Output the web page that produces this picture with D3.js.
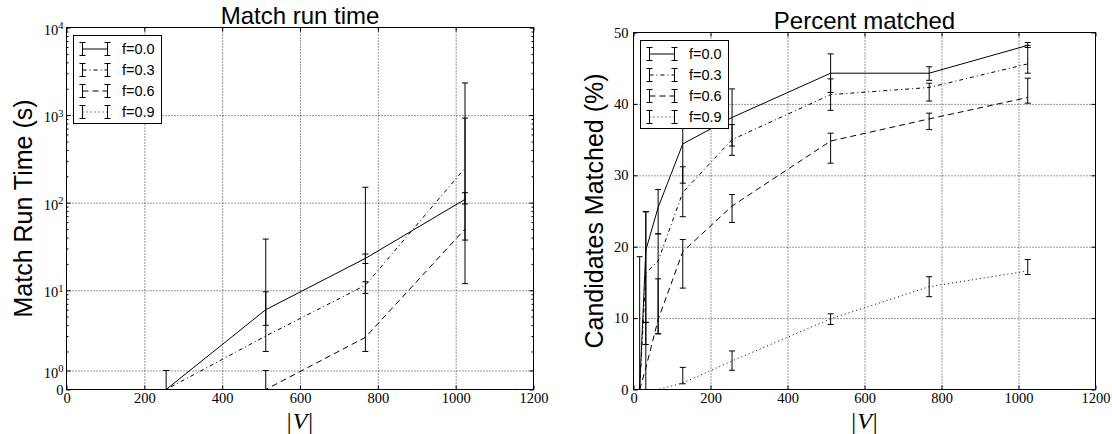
<!DOCTYPE html>
<html>
<head>
<meta charset="utf-8">
<script src="https://cdn.jsdelivr.net/npm/d3@7"></script>
<style>
  body { margin: 0; background: #fff; }
  svg { display: block; }
</style>
</head>
<body>
<div id="chart"></div>
<script>
// |V| sizes shared by both panels
const sizes = [16, 32, 64, 128, 256, 512, 768, 1024];
const seriesNames = ["f=0.0", "f=0.3", "f=0.6", "f=0.9"];
const xTicks = [0, 200, 400, 600, 800, 1000, 1200];

// Match run time (s), symlog axis
const time00 = [0, 0, 0, 0, 0, 6.0, 23.1, 109];
const time03 = [0, 0, 0, 0, 0, 3.0, 11.4, 248];
const time06 = [0, 0, 0, 0, 0, 0, 2.9, 50];
const time09 = [0, 0, 0, 0, 0, 0, 0, 0];
const time00Lo = [0, 0, 0, 0, 0, 3.98, 20.2, 96.6];
const time00Hi = [0, 0, 0, 0, 1.0, 9.6, 25.9, 130];
const time03Lo = [0, 0, 0, 0, 0, 2.0, 9.2, 11.9];
const time03Hi = [0, 0, 0, 0, 0, 38.4, 12.5, 2328];
const time06Lo = [0, 0, 0, 0, 0, 0, 2.0, 37.4];
const time06Hi = [0, 0, 0, 0, 0, 1.0, 150, 925];
const time09Lo = [0, 0, 0, 0, 0, 0, 0, 0];
const time09Hi = [0, 0, 0, 0, 0, 0, 0, 0];
const timeTicks = [0, 1, 10, 100, 1000, 10000];

// Candidates matched (%)
const pct00 = [0, 19.5, 25.5, 34.4, 38.1, 44.3, 44.3, 48.2];
const pct03 = [0, 16.3, 18.0, 27.6, 35.0, 41.3, 42.3, 45.6];
const pct06 = [0, 3.0, 9.8, 19.3, 25.7, 34.8, 37.9, 40.9];
const pct09 = [0, 0, 0, 0.9, 4.0, 9.9, 14.4, 16.6];
const pct00Lo = [0, 6.3, 21.8, 28.9, 34.1, 41.6, 43.3, 47.9];
const pct00Hi = [18.6, 24.9, 28.0, 39.9, 42.1, 47.0, 45.2, 48.6];
const pct03Lo = [0, 9.4, 7.8, 24.2, 32.8, 39.1, 40.4, 44.3];
const pct03Hi = [0, 24.9, 21.8, 31.2, 37.1, 43.5, 42.9, 48.2];
const pct06Lo = [0, 0, 7.8, 14.2, 23.4, 31.7, 36.4, 40.1];
const pct06Hi = [0, 9.4, 15.5, 21.0, 27.3, 35.9, 38.7, 43.6];
const pct09Lo = [0, 0, 0, 0.8, 2.7, 9.1, 13.0, 16.1];
const pct09Hi = [0, 0, 0, 3.1, 5.4, 10.6, 15.8, 18.2];
const pctTicks = [0, 10, 20, 30, 40, 50];

const dashes = [null, "4,3,1,3", "6,4", "1,3"];
const serifFont = "'Liberation Serif', 'DejaVu Serif', serif";
const sansFont = "'Liberation Sans', Arial, sans-serif";

// old matplotlib symlog: log10 above 2, tangent-linear below
function symT(v) {
  const lt = 2;
  if (v >= lt) return Math.log10(v);
  return Math.log10(lt) - (lt - v) / (lt * Math.LN10);
}
function makeSymlog(range) {
  const lin = d3.scaleLinear().domain([symT(0), symT(10000)]).range(range);
  const s = v => lin(symT(v));
  s.domain = () => [0, 10000];
  s.range = () => lin.range();
  s.copy = () => makeSymlog(range);
  return s;
}

const svg = d3.select("#chart").append("svg")
  .attr("width", 1112).attr("height", 434);

function drawPanel(p) {
  const x = d3.scaleLinear().domain([0, 1200]).range([p.left, p.right]);
  const y = p.y;
  const g = svg.append("g");
  const clipId = "clip" + p.id;
  svg.append("clipPath").attr("id", clipId).append("rect")
    .attr("x", p.left).attr("y", p.top)
    .attr("width", p.right - p.left).attr("height", p.bottom - p.top);

  // grid
  g.append("g").attr("transform", "translate(0," + p.bottom + ")")
    .call(d3.axisBottom(x).tickValues(xTicks.slice(1, -1)).tickSize(-(p.bottom - p.top)).tickFormat(""))
    .call(s => s.select(".domain").remove())
    .selectAll("line").attr("stroke", "#000").attr("stroke-width", 0.8).attr("stroke-dasharray", "1,2");
  g.append("g").attr("transform", "translate(" + p.left + ",0)")
    .call(d3.axisLeft(y).tickValues(p.yTicks.slice(1, -1)).tickSize(-(p.right - p.left)).tickFormat(""))
    .call(s => s.select(".domain").remove())
    .selectAll("line").attr("stroke", "#000").attr("stroke-width", 0.8).attr("stroke-dasharray", "1,2");

  // series lines and error bars
  const plot = g.append("g").attr("clip-path", "url(#" + clipId + ")");
  const line = d3.line().x((d, i) => x(sizes[i])).y(d => y(d));
  p.series.forEach((vals, k) => {
    plot.append("path").datum(vals)
      .attr("d", line).attr("fill", "none")
      .attr("stroke", "#000").attr("stroke-width", 1)
      .attr("stroke-dasharray", dashes[k]);
  });
  p.series.forEach((vals, k) => {
    const lo = p.lo[k], hi = p.hi[k];
    const bars = sizes.map((s, i) => ({ x: s, lo: lo[i], hi: hi[i] })).filter(d => d.hi > d.lo);
    const eb = plot.append("g").selectAll("g").data(bars).enter().append("g");
    eb.append("line")
      .attr("x1", d => x(d.x)).attr("x2", d => x(d.x))
      .attr("y1", d => y(d.lo)).attr("y2", d => y(d.hi));
    eb.append("line")
      .attr("x1", d => x(d.x) - 3).attr("x2", d => x(d.x) + 3)
      .attr("y1", d => y(d.lo)).attr("y2", d => y(d.lo));
    eb.append("line")
      .attr("x1", d => x(d.x) - 3).attr("x2", d => x(d.x) + 3)
      .attr("y1", d => y(d.hi)).attr("y2", d => y(d.hi));
    eb.selectAll("line").attr("stroke", "#000").attr("stroke-width", 1);
  });

  // ticks on all four sides, pointing in
  const xb = g.append("g").attr("transform", "translate(0," + p.bottom + ")")
    .call(d3.axisBottom(x).tickValues(xTicks).tickSize(-4).tickPadding(3).tickFormat(d3.format("d")));
  g.append("g").attr("transform", "translate(0," + p.top + ")")
    .call(d3.axisTop(x).tickValues(xTicks).tickSize(-4).tickFormat(""));
  const yl = g.append("g").attr("transform", "translate(" + p.left + ",0)")
    .call(d3.axisLeft(y).tickValues(p.yTicks).tickSize(-4).tickPadding(p.yPad));
  g.append("g").attr("transform", "translate(" + p.right + ",0)")
    .call(d3.axisRight(y).tickValues(p.yTicks).tickSize(-4).tickFormat(""));
  if (p.minor) {
    g.append("g").attr("transform", "translate(" + p.left + ",0)")
      .call(d3.axisLeft(y).tickValues(p.minor).tickSize(-2).tickFormat(""));
    g.append("g").attr("transform", "translate(" + p.right + ",0)")
      .call(d3.axisRight(y).tickValues(p.minor).tickSize(-2).tickFormat(""));
  }
  g.selectAll(".domain").remove();
  g.selectAll(".tick line").filter(function () { return !this.getAttribute("stroke-dasharray"); })
    .attr("stroke", "#000");
  xb.selectAll("text").attr("font-family", serifFont).attr("font-size", 14.5).attr("fill", "#000");
  yl.selectAll("text").attr("font-family", serifFont).attr("font-size", 14.5).attr("fill", "#000");
  if (p.pow) {
    yl.selectAll(".tick text").each(function (d) {
      const t = d3.select(this);
      t.text(null);
      if (d === 0) { t.text("0"); return; }
      t.attr("dy", "0.45em");
      t.append("tspan").text("10");
      t.append("tspan").attr("dy", "-0.5em").attr("font-size", "0.72em").text(Math.round(Math.log10(d)));
    });
  }

  // frame
  g.append("rect").attr("x", p.left).attr("y", p.top)
    .attr("width", p.right - p.left).attr("height", p.bottom - p.top)
    .attr("fill", "none").attr("stroke", "#000").attr("stroke-width", 1);

  // legend
  const lg = g.append("g").attr("transform", "translate(" + (p.left + 7) + "," + (p.top + 8) + ")");
  lg.append("rect").attr("width", 88).attr("height", 88)
    .attr("fill", "#fff").attr("stroke", "#000").attr("stroke-width", 1);
  seriesNames.forEach((name, k) => {
    const cy = 13.5 + k * 21;
    const e = lg.append("g").attr("transform", "translate(0," + cy + ")");
    e.append("line").attr("x1", 9).attr("x2", 34).attr("y1", 0).attr("y2", 0)
      .attr("stroke", "#000").attr("stroke-dasharray", dashes[k]);
    [9, 34].forEach(cx => {
      e.append("line").attr("x1", cx).attr("x2", cx).attr("y1", -6.5).attr("y2", 6.5).attr("stroke", "#000");
      e.append("line").attr("x1", cx - 3).attr("x2", cx + 3).attr("y1", -6.5).attr("y2", -6.5).attr("stroke", "#000");
      e.append("line").attr("x1", cx - 3).attr("x2", cx + 3).attr("y1", 6.5).attr("y2", 6.5).attr("stroke", "#000");
    });
    e.append("text").attr("x", 48.5).attr("y", 0).attr("dy", "0.36em")
      .attr("font-family", sansFont).attr("font-size", 14.5).text(name);
  });

  // titles and labels
  const cx = (p.left + p.right) / 2;
  svg.append("text").attr("x", cx).attr("y", p.top - 3.5)
    .attr("text-anchor", "middle").attr("font-family", sansFont).attr("font-size", 24)
    .text(p.title);
  svg.append("text")
    .attr("transform", "translate(" + p.yLabelX + "," + ((p.top + p.bottom) / 2) + ") rotate(-90)")
    .attr("text-anchor", "middle").attr("font-family", sansFont).attr("font-size", 25)
    .text(p.yLabel);
  const xl = svg.append("text").attr("x", cx).attr("y", 428.5)
    .attr("text-anchor", "middle").attr("font-family", serifFont).attr("font-size", 24);
  xl.append("tspan").text("|");
  xl.append("tspan").attr("font-style", "italic").attr("dx", 1).text("V");
  xl.append("tspan").attr("dx", 1).text("|");
}

const minorTicks = [];
[1, 10, 100, 1000].forEach(b => { for (let k = 2; k <= 9; k++) minorTicks.push(k * b); });

drawPanel({
  id: "time", left: 66.5, right: 533.5, top: 27.5, bottom: 389.5,
  y: makeSymlog([389.5, 27.5]), yTicks: timeTicks, minor: minorTicks, pow: true, yPad: 3,
  series: [time00, time03, time06, time09],
  lo: [time00Lo, time03Lo, time06Lo, time09Lo],
  hi: [time00Hi, time03Hi, time06Hi, time09Hi],
  title: "Match run time", yLabel: "Match Run Time (s)", yLabelX: 32
});

drawPanel({
  id: "pct", left: 633.5, right: 1095.5, top: 32.5, bottom: 389.5,
  y: d3.scaleLinear().domain([0, 50]).range([389.5, 32.5]), yTicks: pctTicks, yPad: 5,
  series: [pct00, pct03, pct06, pct09],
  lo: [pct00Lo, pct03Lo, pct06Lo, pct09Lo],
  hi: [pct00Hi, pct03Hi, pct06Hi, pct09Hi],
  title: "Percent matched", yLabel: "Candidates Matched (%)", yLabelX: 603
});
</script>
</body>
</html>
